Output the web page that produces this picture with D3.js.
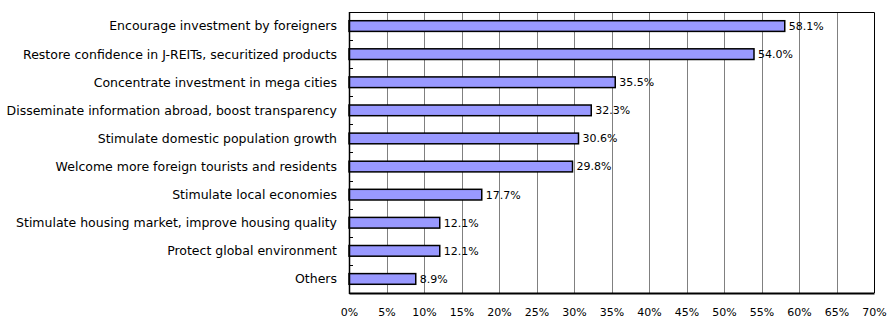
<!DOCTYPE html>
<html>
<head>
<meta charset="utf-8">
<script src="https://cdn.jsdelivr.net/npm/d3@7"></script>
<style>
body { margin: 0; background: #fff; }
text { font-family: "DejaVu Sans", sans-serif; }
</style>
</head>
<body>
<div id="chart"></div>
<script>
var width = 887, height = 320;
var margin = {top: 12, left: 349, right: 13, bottom: 27};

// answers, top to bottom
var categories = [
  "Encourage investment by foreigners",
  "Restore confidence in J-REITs, securitized products",
  "Concentrate investment in mega cities",
  "Disseminate information abroad, boost transparency",
  "Stimulate domestic population growth",
  "Welcome more foreign tourists and residents",
  "Stimulate local economies",
  "Stimulate housing market, improve housing quality",
  "Protect global environment",
  "Others"
];
var values = [58.1, 54.0, 35.5, 32.3, 30.6, 29.8, 17.7, 12.1, 12.1, 8.9];
var tickValues = [0, 5, 10, 15, 20, 25, 30, 35, 40, 45, 50, 55, 60, 65, 70];

var svg = d3.select("#chart").append("svg")
    .attr("width", width)
    .attr("height", height);

var x = d3.scaleLinear()
    .domain([0, 70])
    .range([margin.left, width - margin.right]);

var y = d3.scaleBand()
    .domain(categories)
    .range([margin.top, height - margin.bottom])
    .paddingInner(0.62)
    .paddingOuter(0.31);

// vertical gridlines
svg.append("g")
    .selectAll("line")
    .data(tickValues.slice(1, -1))
    .enter().append("line")
    .attr("x1", function(d) { return Math.round(x(d)) + 0.5; })
    .attr("x2", function(d) { return Math.round(x(d)) + 0.5; })
    .attr("y1", margin.top)
    .attr("y2", height - margin.bottom)
    .attr("stroke", "#808080")
    .attr("stroke-width", 1);

// plot border (top + right)
svg.append("path")
    .attr("d", "M" + x(0) + "," + (margin.top + 0.5) + "H" + (x(70) + 0.5) + "V" + (height - margin.bottom))
    .attr("fill", "none")
    .attr("stroke", "#000")
    .attr("stroke-width", 1);

// bars
svg.append("g")
    .selectAll("rect")
    .data(values)
    .enter().append("rect")
    .attr("x", x(0))
    .attr("y", function(d, i) { return y(categories[i]); })
    .attr("width", function(d) { return x(d) - x(0); })
    .attr("height", y.bandwidth())
    .attr("fill", "#9999ff")
    .attr("stroke", "#000")
    .attr("stroke-width", 1.5);

// value labels
svg.append("g")
    .selectAll("text")
    .data(values)
    .enter().append("text")
    .attr("x", function(d) { return x(d) + 4; })
    .attr("y", function(d, i) { return y(categories[i]) + y.bandwidth() / 2; })
    .attr("dy", "0.35em")
    .attr("font-size", 11)
    .attr("fill", "#000")
    .text(function(d) { return d.toFixed(1) + "%"; });

// left axis with category labels
var step = y.step();
svg.append("g")
    .selectAll("line")
    .data(categories.slice(1))
    .enter().append("line")
    .attr("x1", x(0))
    .attr("x2", x(0) + 4)
    .attr("y1", function(d) { return Math.round(y(d) - y.paddingOuter() * step) + 0.5; })
    .attr("y2", function(d) { return Math.round(y(d) - y.paddingOuter() * step) + 0.5; })
    .attr("stroke", "#000");

svg.append("line")
    .attr("x1", x(0) + 0.5).attr("x2", x(0) + 0.5)
    .attr("y1", margin.top).attr("y2", height - margin.bottom + 1)
    .attr("stroke", "#000").attr("stroke-width", 1.5);

svg.append("g")
    .selectAll("text")
    .data(categories)
    .enter().append("text")
    .attr("x", x(0) - 12)
    .attr("y", function(d) { return y(d) + y.bandwidth() / 2; })
    .attr("dy", "0.35em")
    .attr("text-anchor", "end")
    .attr("font-size", 12.5)
    .attr("fill", "#000")
    .text(function(d) { return d; });

// bottom axis
var xAxis = d3.axisBottom(x)
    .tickValues(tickValues)
    .tickSize(0)
    .tickPadding(15)
    .tickFormat(function(d) { return d + "%"; });

var gx = svg.append("g")
    .attr("transform", "translate(0," + (height - margin.bottom) + ")")
    .call(xAxis);
gx.select(".domain").attr("stroke", "#000").attr("stroke-width", 2);
gx.selectAll("text").attr("font-size", 11).attr("fill", "#000")
    .style("font-family", "'DejaVu Sans', sans-serif");
</script>
</body>
</html>
